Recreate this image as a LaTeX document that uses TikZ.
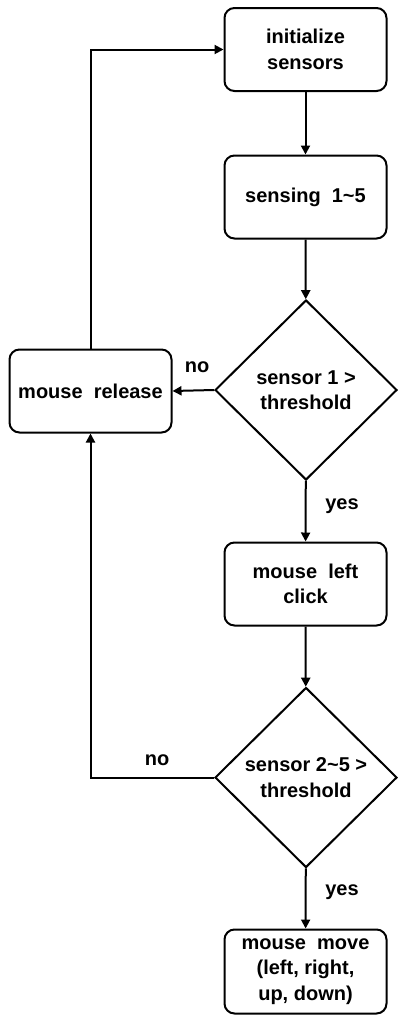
\documentclass[tikz,border=0pt]{standalone}
\usepackage{fontspec}
\setmainfont{Liberation Sans}
\usetikzlibrary{arrows.meta,shapes.geometric}
\begin{document}
\begin{tikzpicture}[x=1pt,y=-1pt,
  every node/.style={font=\bfseries\fontsize{20}{25.5}\selectfont, align=center},
  box/.style={draw, line width=2pt, rounded corners=10pt, minimum width=162pt, minimum height=83pt, inner sep=0pt},
  dec/.style={draw, diamond, line width=2pt, minimum width=182pt, minimum height=180pt, inner sep=0pt},
  lbl/.style={inner sep=0pt},
  arr/.style={line width=2pt, -{Triangle[length=9pt,width=9pt]}}]
\useasboundingbox (0,0) rectangle (398,1017);
\node[box] (init) at (305.5,49.5) {initialize\\sensors};
\node[box] (sense) at (305.5,197) {sensing\ \ 1\textasciitilde5};
\node[dec] (d1) at (306,390) {sensor 1 >\\threshold};
\node[box] (rel) at (90.5,391) {mouse\ \ release};
\node[box] (click) at (305.5,584) {mouse\ \ left\\click};
\node[dec] (d2) at (306,777.5) {sensor 2\textasciitilde5 >\\threshold};
\node[box, minimum height=84pt] (move) at (305.5,971.5) {mouse\ \ move\\(left, right,\\up, down)};
\draw[arr] (init) -- (sense);
\draw[arr] (sense) -- (d1);
\draw[arr] (d1) -- (click);
\draw[arr] (click) -- (d2);
\draw[arr] (d2) -- (move);
\draw[arr] (d1.west) -- (rel.east);
\draw[arr] (rel.north) |- (init.west);
\draw[arr] (d2.west) -| (rel.south);
\node[lbl] (no1) at (197,367) {no};
\node[lbl] (no2) at (157,760) {no};
\node[lbl] (yes1) at (342,506) {yes};
\node[lbl] (yes2) at (342,892) {yes};
\end{tikzpicture}
\end{document}
